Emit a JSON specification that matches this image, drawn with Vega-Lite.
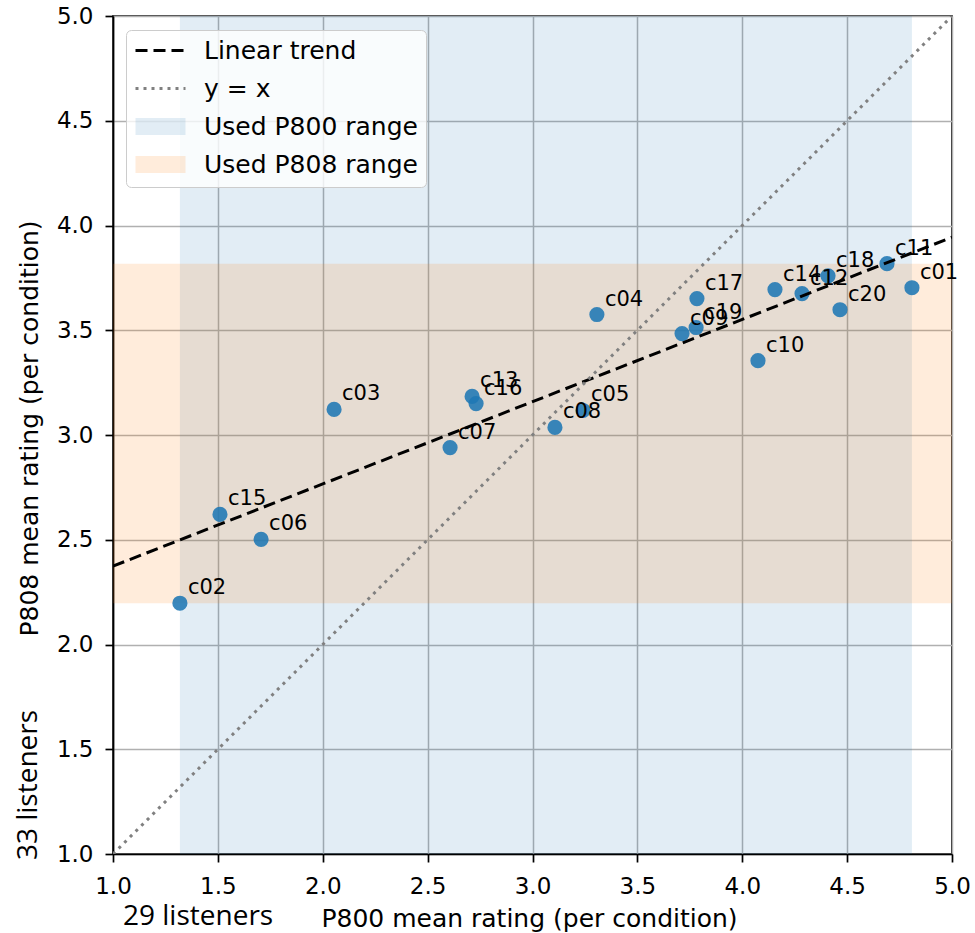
{
  "$schema": "https://vega.github.io/schema/vega-lite/v6.json",
  "width": 839,
  "height": 838,
  "autosize": "none",
  "padding": {"left": 113, "top": 16, "right": 23, "bottom": 79},
  "background": "white",
  "config": {
    "font": "DejaVu Sans",
    "view": {"stroke": "black", "strokeWidth": 1.7},
    "axis": {
      "domainColor": "black", "domainWidth": 1.7,
      "tickColor": "black", "tickWidth": 1.7, "tickSize": 8,
      "gridColor": "#b0b0b0", "gridWidth": 1.5,
      "labelFont": "DejaVu Sans", "labelFontSize": 23, "labelColor": "black",
      "titleFont": "DejaVu Sans", "titleFontSize": 25, "titleFontWeight": "normal", "titleColor": "black",
      "labelOverlap": false, "labelFlush": false
    },
    "legend": {
      "orient": "none", "legendX": 13, "legendY": 14,
      "labelFont": "DejaVu Sans", "labelFontSize": 25, "labelColor": "black", "labelLimit": 400,
      "fillColor": "rgba(255,255,255,0.8)", "strokeColor": "#cccccc", "cornerRadius": 5,
      "padding": 8, "rowPadding": 9, "symbolSize": 400, "labelOffset": 46, "symbolOffset": -1,
      "symbolStrokeWidth": 3, "symbolOpacity": 1
    }
  },
  "datasets": {
    "points": [
      {"id": "c01", "p800": 4.809, "p808": 3.703},
      {"id": "c02", "p800": 1.319, "p808": 2.197},
      {"id": "c03", "p800": 2.054, "p808": 3.122},
      {"id": "c04", "p800": 3.307, "p808": 3.575},
      {"id": "c05", "p800": 3.241, "p808": 3.117},
      {"id": "c06", "p800": 1.706, "p808": 2.502},
      {"id": "c07", "p800": 2.607, "p808": 2.94},
      {"id": "c08", "p800": 3.107, "p808": 3.036},
      {"id": "c09", "p800": 3.713, "p808": 3.484},
      {"id": "c10", "p800": 4.075, "p808": 3.355},
      {"id": "c11", "p800": 4.69, "p808": 3.818},
      {"id": "c12", "p800": 4.285, "p808": 3.675},
      {"id": "c13", "p800": 2.712, "p808": 3.184},
      {"id": "c14", "p800": 4.156, "p808": 3.694},
      {"id": "c15", "p800": 1.51, "p808": 2.621},
      {"id": "c16", "p800": 2.731, "p808": 3.15},
      {"id": "c17", "p800": 3.784, "p808": 3.651},
      {"id": "c18", "p800": 4.409, "p808": 3.76},
      {"id": "c19", "p800": 3.78, "p808": 3.513},
      {"id": "c20", "p800": 4.466, "p808": 3.598}
    ],
    "trend": [{"p800": 1.0, "p808": 2.374}, {"p800": 5.0, "p808": 3.944}],
    "identity": [{"p800": 1.0, "p808": 1.0}, {"p800": 5.0, "p808": 5.0}]
  },
  "layer": [
    {
      "data": {"name": "points"},
      "transform": [{"aggregate": [{"op": "min", "field": "p800", "as": "xlo"}, {"op": "max", "field": "p800", "as": "xhi"}]}],
      "mark": {"type": "rect"},
      "encoding": {
        "x": {
          "field": "xlo", "type": "quantitative",
          "scale": {"domain": [1, 5], "nice": false, "zero": false},
          "title": "P800 mean rating (per condition)",
          "axis": {"values": [1, 1.5, 2, 2.5, 3, 3.5, 4, 4.5, 5], "format": ".1f", "labelPadding": 13, "titleBaseline": "alphabetic", "titleY": 72, "titleX": 416}
        },
        "x2": {"field": "xhi"},
        "fill": {
          "datum": "Used P800 range", "type": "nominal",
          "scale": {"domain": ["Linear trend", "y = x", "Used P800 range", "Used P808 range"], "range": ["transparent", "transparent", "rgba(31,119,180,0.13)", "rgba(255,127,14,0.15)"]},
          "legend": {"title": null, "symbolType": {"expr": "(datum.value === 'Linear trend' || datum.value === 'y = x') ? 'M-1,-0.85M4,0.85M-1,0H4' : 'M-1,-0.85H4V0.85H-1Z'"}}
        }
      }
    },
    {
      "data": {"name": "points"},
      "transform": [{"aggregate": [{"op": "min", "field": "p808", "as": "ylo"}, {"op": "max", "field": "p808", "as": "yhi"}]}],
      "mark": {"type": "rect"},
      "encoding": {
        "y": {
          "field": "ylo", "type": "quantitative",
          "scale": {"domain": [1, 5], "nice": false, "zero": false},
          "title": "P808 mean rating (per condition)",
          "axis": {"values": [1, 1.5, 2, 2.5, 3, 3.5, 4, 4.5, 5], "format": ".1f", "labelPadding": 12, "titleBaseline": "alphabetic", "titleX": -76, "titleY": 412}
        },
        "y2": {"field": "yhi"},
        "fill": {"datum": "Used P808 range", "type": "nominal"}
      }
    },
    {
      "data": {"name": "points"},
      "mark": {"type": "circle", "size": 230, "opacity": 0.88, "color": "#1f77b4"},
      "encoding": {
        "x": {"field": "p800", "type": "quantitative"},
        "y": {"field": "p808", "type": "quantitative"}
      }
    },
    {
      "data": {"name": "points"},
      "mark": {"type": "text", "align": "left", "baseline": "alphabetic", "dx": 8, "dy": -9, "fontSize": 21, "font": "DejaVu Sans", "color": "black"},
      "encoding": {
        "x": {"field": "p800", "type": "quantitative"},
        "y": {"field": "p808", "type": "quantitative"},
        "text": {"field": "id"}
      }
    },
    {
      "data": {"name": "trend"},
      "mark": {"type": "line", "strokeWidth": 3, "clip": true},
      "encoding": {
        "x": {"field": "p800", "type": "quantitative"},
        "y": {"field": "p808", "type": "quantitative"},
        "stroke": {
          "datum": "Linear trend", "type": "nominal",
          "scale": {"domain": ["Linear trend", "y = x", "Used P800 range", "Used P808 range"], "range": ["#000000", "#808080", "transparent", "transparent"]},
          "legend": {"title": null, "symbolType": {"expr": "(datum.value === 'Linear trend' || datum.value === 'y = x') ? 'M-1,-0.85M4,0.85M-1,0H4' : 'M-1,-0.85H4V0.85H-1Z'"}}
        },
        "strokeDash": {
          "datum": "Linear trend", "type": "nominal",
          "scale": {"domain": ["Linear trend", "y = x", "Used P800 range", "Used P808 range"], "range": [[12, 6], [3, 5], [1, 0], [1, 0]]},
          "legend": {"title": null, "symbolType": {"expr": "(datum.value === 'Linear trend' || datum.value === 'y = x') ? 'M-1,-0.85M4,0.85M-1,0H4' : 'M-1,-0.85H4V0.85H-1Z'"}}
        }
      }
    },
    {
      "data": {"name": "identity"},
      "mark": {"type": "line", "strokeWidth": 3, "clip": true},
      "encoding": {
        "x": {"field": "p800", "type": "quantitative"},
        "y": {"field": "p808", "type": "quantitative"},
        "stroke": {"datum": "y = x", "type": "nominal"},
        "strokeDash": {"datum": "y = x", "type": "nominal"}
      }
    },
    {
      "data": {"values": [{}]},
      "mark": {"type": "text", "align": "left", "baseline": "alphabetic", "fontSize": 28, "font": "Open Sans", "color": "black"},
      "encoding": {
        "x": {"datum": 1.0477},
        "y": {"datum": 0.661},
        "text": {"value": "29 listeners"}
      }
    },
    {
      "data": {"values": [{}]},
      "mark": {"type": "text", "align": "left", "baseline": "alphabetic", "angle": 270, "fontSize": 28, "font": "Open Sans", "color": "black"},
      "encoding": {
        "x": {"datum": 0.6377},
        "y": {"datum": 0.971},
        "text": {"value": "33 listeners"}
      }
    }
  ]
}
